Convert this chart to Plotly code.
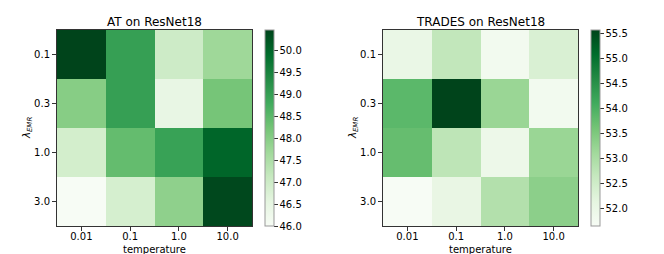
import plotly.graph_objects as go

temperatures = ["0.01", "0.1", "1.0", "10.0"]
lambdas = ["0.1", "0.3", "1.0", "3.0"]

at_values = [
    [50.46, 49.0, 47.0, 47.7],
    [48.0, 49.0, 46.45, 48.2],
    [46.9, 48.4, 48.95, 50.0],
    [46.0, 46.85, 47.9, 50.4],
]
trades_values = [
    [52.0, 52.7, 51.8, 52.35],
    [53.85, 55.57, 53.2, 51.8],
    [53.75, 52.75, 51.93, 53.2],
    [51.66, 52.05, 52.9, 53.35],
]

at_ticks = [46.0, 46.5, 47.0, 47.5, 48.0, 48.5, 49.0, 49.5, 50.0]
trades_ticks = [52.0, 52.5, 53.0, 53.5, 54.0, 54.5, 55.0, 55.5]

greens = [
    [0.0, "#f7fcf5"], [0.125, "#e5f5e0"], [0.25, "#c7e9c0"], [0.375, "#a1d99b"],
    [0.5, "#74c476"], [0.625, "#41ab5d"], [0.75, "#238b45"], [0.875, "#006d2c"],
    [1.0, "#00441b"],
]

W, H = 664, 254
OFF = 8  # page body margin
FONT = "DejaVu Sans"

def px(x):
    return (x - OFF) / W

def py(y):
    return 1 - (y - OFF) / H

top, bottom = 30, 226
panels = [
    dict(name="AT on ResNet18", z=at_values, ticks=at_ticks, x0=57, x1=252, cb=265),
    dict(name="TRADES on ResNet18", z=trades_values, ticks=trades_ticks, x0=383, x1=578, cb=591),
]

fig = go.Figure()
annotations = []
for i, p in enumerate(panels):
    sfx = "" if i == 0 else str(i + 1)
    zmin = min(min(r) for r in p["z"])
    zmax = max(max(r) for r in p["z"])
    fig.add_trace(go.Heatmap(
        z=p["z"], x=temperatures, y=lambdas,
        xaxis="x" + sfx, yaxis="y" + sfx,
        colorscale=greens, zmin=zmin, zmax=zmax,
        colorbar=dict(
            x=px(p["cb"]), xanchor="left", xref="paper",
            y=py((top + bottom) / 2), yanchor="middle",
            len=(bottom - top) / H, lenmode="fraction",
            thickness=9, thicknessmode="pixels",
            outlinecolor="#999999", outlinewidth=1,
            tickvals=p["ticks"], ticktext=[f"{t:.1f}" for t in p["ticks"]],
            ticks="outside", ticklen=3.5, tickcolor="#333333",
            tickfont=dict(family=FONT, size=10, color="black"),
            xpad=0, ypad=0,
        ),
        showscale=True,
    ))
    fig.update_layout(**{
        "xaxis" + sfx: dict(
            domain=[px(p["x0"]), px(p["x1"])], anchor="y" + sfx,
            type="category", categoryorder="array", categoryarray=temperatures,
            showline=True, mirror=True, linecolor="#333333", linewidth=1,
            ticks="outside", ticklen=4, tickcolor="#333333",
            ticklabelstandoff=-3,
            tickfont=dict(family=FONT, size=10, color="black"),
            showgrid=False, zeroline=False,
        ),
        "yaxis" + sfx: dict(
            domain=[py(bottom), py(top)], anchor="x" + sfx,
            type="category", categoryorder="array", categoryarray=lambdas,
            autorange="reversed",
            showline=True, mirror=True, linecolor="#333333", linewidth=1,
            ticks="outside", ticklen=4, tickcolor="#333333",
            tickfont=dict(family=FONT, size=10, color="black"),
            showgrid=False, zeroline=False,
        ),
    })
    cx = (p["x0"] + p["x1"]) / 2
    annotations.append(dict(
        text=p["name"], x=px(cx), y=py(21.5), xref="paper", yref="paper",
        xanchor="center", yanchor="middle", showarrow=False,
        font=dict(family=FONT, size=12, color="black"),
    ))
    annotations.append(dict(
        text="temperature", x=px(cx), y=py(249), xref="paper", yref="paper",
        xanchor="center", yanchor="middle", showarrow=False,
        font=dict(family=FONT, size=10, color="black"),
    ))
    annotations.append(dict(
        text="<i>λ</i><sub><i>EMR</i></sub>", x=px(p["x0"] - 30), y=py((top + bottom) / 2),
        xref="paper", yref="paper", xanchor="center", yanchor="middle",
        textangle=-90, showarrow=False,
        font=dict(family=FONT, size=10, color="black"),
    ))

fig.update_layout(
    width=W, height=H,
    margin=dict(l=0, r=0, t=0, b=0),
    paper_bgcolor="white", plot_bgcolor="white",
    annotations=annotations,
    showlegend=False,
)

fig.write_html("out.html")
